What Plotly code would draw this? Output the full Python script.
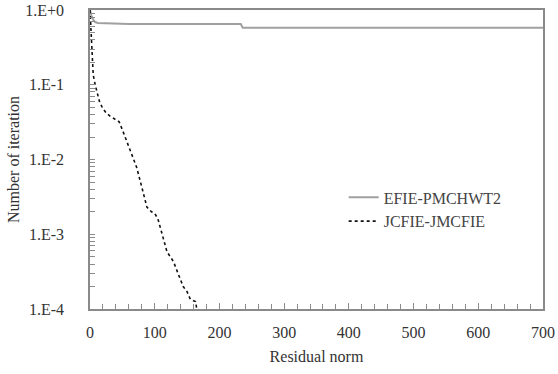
import plotly.graph_objects as go

# EFIE-PMCHWT2 (gray solid)
efie_x = [0, 2, 5, 8, 12, 20, 50, 60, 233, 236, 700]
efie_y = [1.0, 0.85, 0.74, 0.69, 0.67, 0.665, 0.66, 0.65, 0.65, 0.58, 0.58]

# JCFIE-JMCFIE (black dotted)
jc_x = [0, 1, 2, 3, 5, 8, 12, 15, 20, 25, 31, 38, 45, 50, 57, 65, 72, 77, 83, 88,
        95, 100, 105, 108, 114, 119, 124, 129, 136, 144, 150, 155, 160, 163, 166]
jc_y = [1.0, 0.6, 0.35, 0.21, 0.135, 0.1, 0.072, 0.058, 0.048, 0.042, 0.038, 0.035,
        0.032, 0.025, 0.017, 0.011, 0.0079, 0.0054, 0.0035, 0.0023, 0.0020, 0.0019,
        0.0016, 0.0013, 0.00089, 0.00058, 0.00050, 0.00043, 0.00030, 0.00020,
        0.00017, 0.000135, 0.000129, 0.000126, 0.000089]

# y ticks: decades labelled, 2..9 subdivisions unlabelled
y_decades = [1, 0.1, 0.01, 0.001, 0.0001]
y_decade_text = ["1.E+0", "1.E-1", "1.E-2", "1.E-3", "1.E-4"]
y_sub = [2, 3, 4, 5, 6, 7, 8, 9]
y_tickvals = list(y_decades)
y_ticktext = list(y_decade_text)
for d in y_decades[1:]:
    for m in y_sub:
        y_tickvals.append(d * m)
        y_ticktext.append("")

x_tickvals = [0, 100, 200, 300, 400, 500, 600, 700]

FONT = "Liberation Serif"
TXT = "#333333"
AX = "#8a8a8a"

fig = go.Figure()
fig.add_trace(go.Scatter(x=efie_x, y=efie_y, mode="lines", name="EFIE-PMCHWT2",
                         legendgroup="a",
                         line=dict(color="#a0a0a0", width=2)))
fig.add_trace(go.Scatter(x=jc_x, y=jc_y, mode="lines", name="JCFIE-JMCFIE",
                         legendgroup="b",
                         line=dict(color="#111111", width=1.6, dash="dot")))

fig.update_layout(
    width=558, height=374,
    margin=dict(l=90, r=15, t=10, b=65, autoexpand=False),
    paper_bgcolor="white", plot_bgcolor="white",
    font=dict(family=FONT, size=16, color=TXT),
    showlegend=True,
    legend=dict(x=0.56, y=0.43, xanchor="left", yanchor="top",
                bgcolor="rgba(0,0,0,0)", tracegroupgap=0,
                font=dict(family=FONT, size=16, color="#444444")),
    xaxis=dict(range=[0, 700], tickvals=x_tickvals, ticks="inside", ticklen=6,
               tickcolor=AX, showgrid=False, zeroline=False, automargin=False,
               showline=True, linecolor=AX, linewidth=1.5, mirror=True,
               minor=dict(dtick=20, ticks="inside", ticklen=5, tickcolor=AX),
               ticklabelstandoff=8,
               title=dict(text="Residual norm", standoff=11,
                          font=dict(family=FONT, size=16, color=TXT))),
    yaxis=dict(type="log", range=[-4, 0], tickvals=y_tickvals, ticktext=y_ticktext,
               ticks="inside", ticklen=5, tickcolor=AX, showgrid=False,
               zeroline=False, showline=True, linecolor=AX, linewidth=1.5,
               mirror=True, automargin=False,
               ticklabelstandoff=21,
               title=dict(text="Number of iteration", standoff=2,
                          font=dict(family=FONT, size=16, color=TXT))),
)

fig.write_html("out.html")
